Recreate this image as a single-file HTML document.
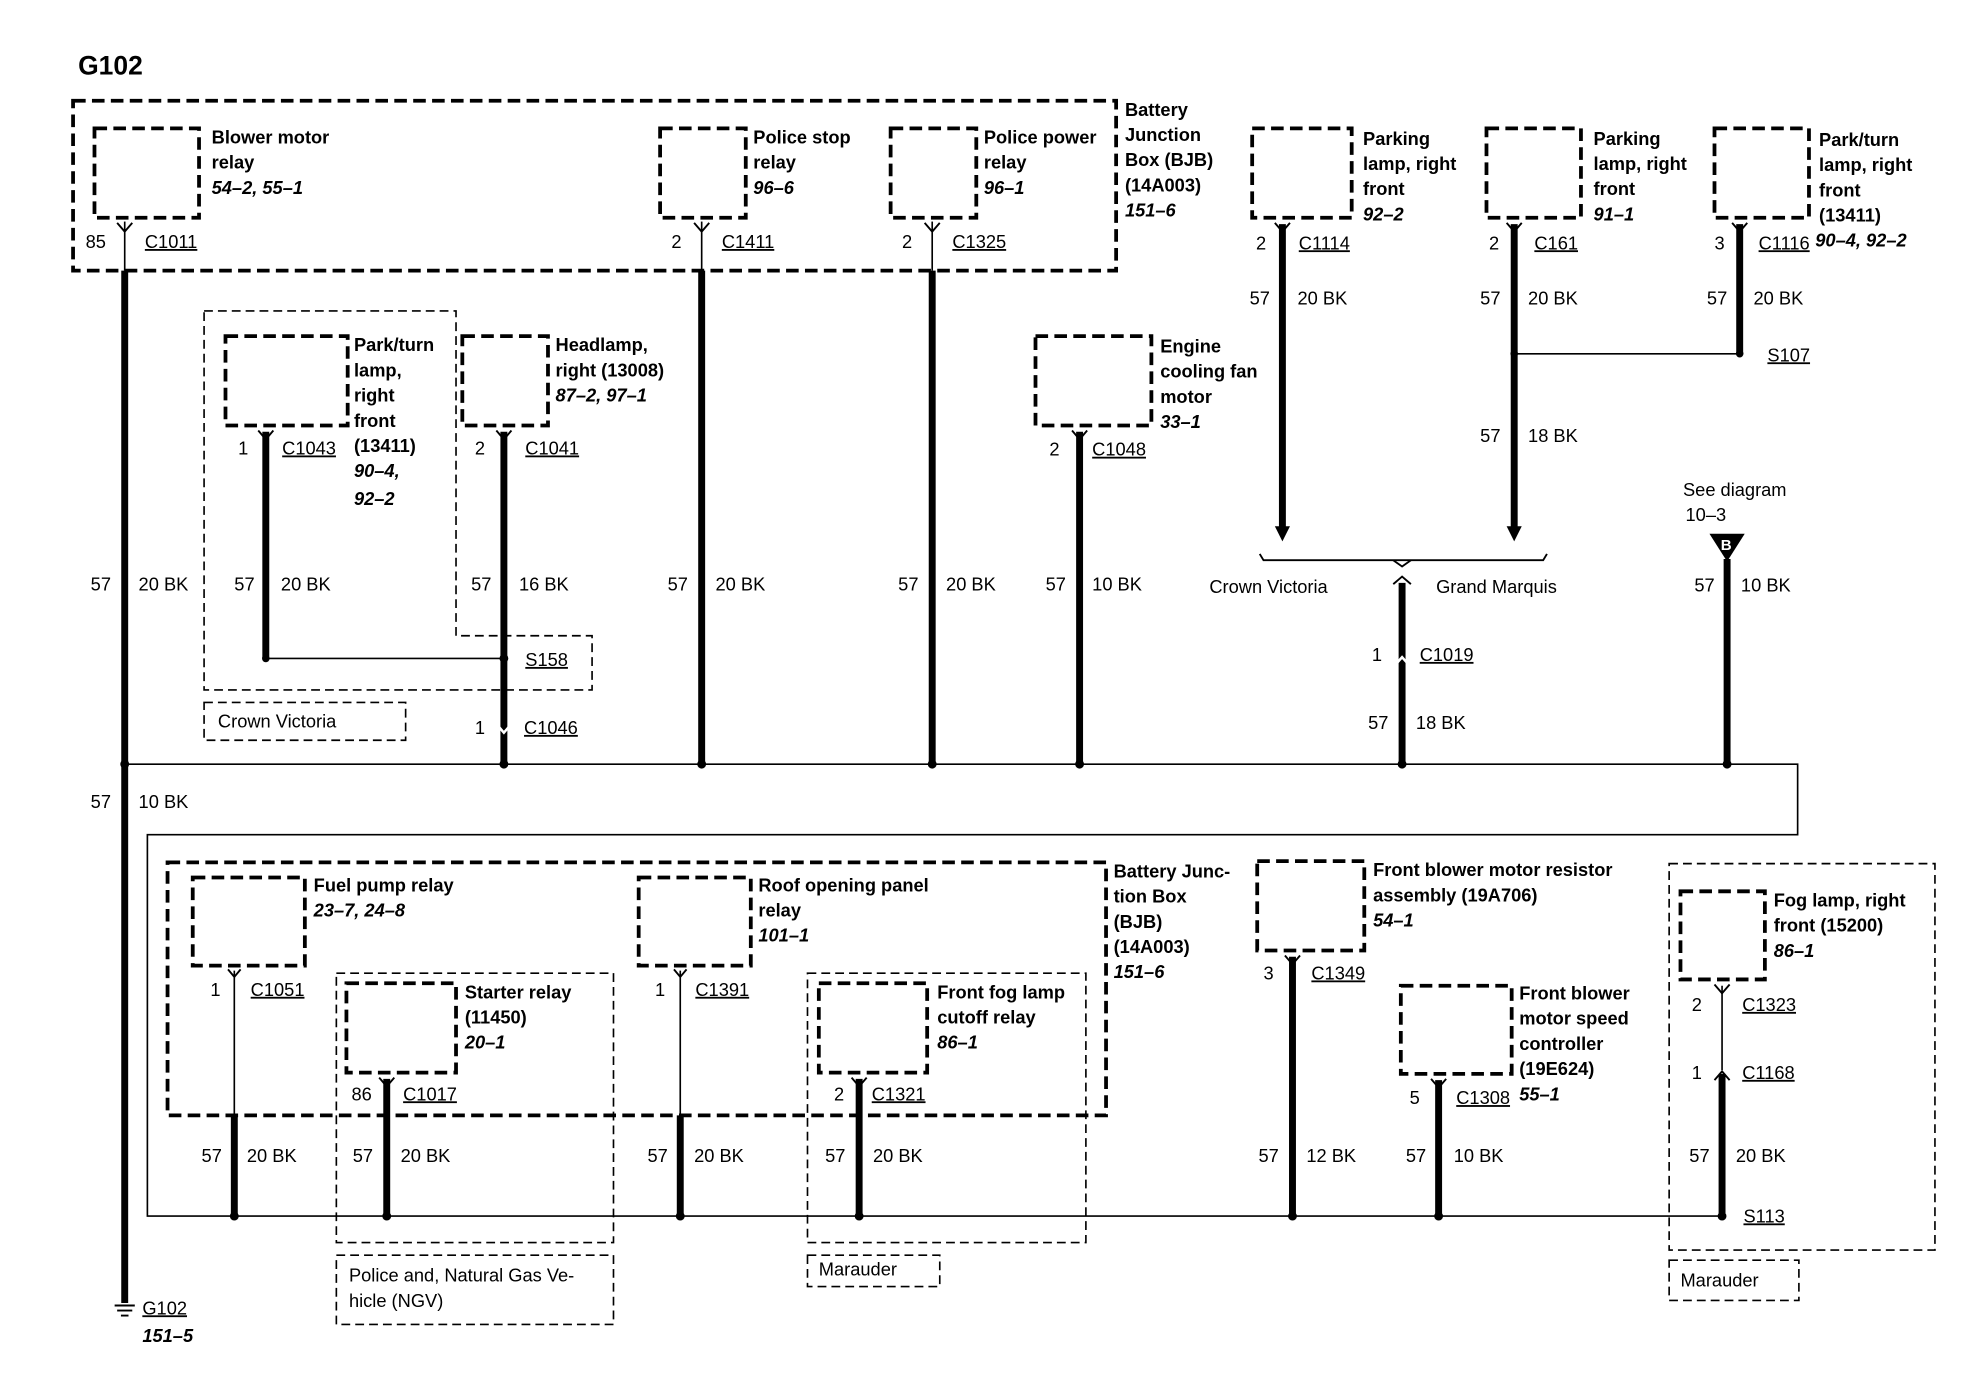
<!DOCTYPE html>
<html><head><meta charset="utf-8"><style>
html,body{margin:0;padding:0;background:#fff;}
svg{display:block;}
text{font-family:"Liberation Sans",Arial,sans-serif;font-size:14.5px;fill:#000;}
.b{font-weight:bold;}
.i{font-weight:bold;font-style:italic;}
.u{text-decoration:underline;}
.rb{fill:none;stroke:#000;stroke-width:3;stroke-dasharray:10,5;}
.gb{fill:none;stroke:#000;stroke-width:1.3;stroke-dasharray:7,4;}
.w{stroke:#000;stroke-width:5.5;fill:none;}
.t{stroke:#000;stroke-width:1.3;fill:none;}
.c{stroke:#000;stroke-width:1.5;fill:none;}
</style></head><body>
<svg width="1974" height="1376" viewBox="0 0 1567 1093" preserveAspectRatio="none" xmlns="http://www.w3.org/2000/svg">
<text x="62" y="59" class="b" style="font-size:21px">G102</text>

<rect x="58" y="80" width="828" height="135" class="rb"/>
<text x="893" y="92" class="b">Battery</text>
<text x="893" y="112" class="b">Junction</text>
<text x="893" y="132" class="b">Box (BJB)</text>
<text x="893" y="152" class="b">(14A003)</text>
<text x="893" y="172" class="i">151–6</text>

<rect x="75" y="102" width="83" height="71" class="rb"/>
<text x="168" y="114" class="b">Blower motor</text>
<text x="168" y="134" class="b">relay</text>
<text x="168" y="154" class="i">54–2, 55–1</text>
<text x="68" y="197">85</text>
<text x="115" y="197" class="u">C1011</text>
<line x1="99" y1="176" x2="99" y2="215" class="t"/>
<polyline points="93,177 99,184 105,177" class="c"/>
<line x1="99" y1="215" x2="99" y2="1035" class="w"/>

<rect x="524" y="102" width="68" height="71" class="rb"/>
<text x="598" y="114" class="b">Police stop</text>
<text x="598" y="134" class="b">relay</text>
<text x="598" y="154" class="i">96–6</text>
<text x="533" y="197">2</text>
<text x="573" y="197" class="u">C1411</text>
<line x1="557" y1="176" x2="557" y2="215" class="t"/>
<polyline points="551,177 557,184 563,177" class="c"/>
<line x1="557" y1="215" x2="557" y2="607" class="w"/>

<rect x="707" y="102" width="68" height="71" class="rb"/>
<text x="781" y="114" class="b">Police power</text>
<text x="781" y="134" class="b">relay</text>
<text x="781" y="154" class="i">96–1</text>
<text x="716" y="197">2</text>
<text x="756" y="197" class="u">C1325</text>
<line x1="740" y1="176" x2="740" y2="215" class="t"/>
<polyline points="734,177 740,184 746,177" class="c"/>
<line x1="740" y1="215" x2="740" y2="607" class="w"/>

<rect x="994" y="102" width="79" height="71" class="rb"/>
<text x="1082" y="115" class="b">Parking</text>
<text x="1082" y="135" class="b">lamp, right</text>
<text x="1082" y="155" class="b">front</text>
<text x="1082" y="175" class="i">92–2</text>
<text x="997" y="198">2</text>
<text x="1031" y="198" class="u">C1114</text>
<polyline points="1012,177 1018,184 1024,177" class="c"/>
<line x1="1018" y1="178" x2="1018" y2="420" class="w"/>
<polygon points="1012,418 1024,418 1018,430" fill="#000"/>
<text x="992" y="242">57</text>
<text x="1030" y="242">20 BK</text>

<rect x="1180" y="102" width="75" height="71" class="rb"/>
<text x="1265" y="115" class="b">Parking</text>
<text x="1265" y="135" class="b">lamp, right</text>
<text x="1265" y="155" class="b">front</text>
<text x="1265" y="175" class="i">91–1</text>
<text x="1182" y="198">2</text>
<text x="1218" y="198" class="u">C161</text>
<polyline points="1196,177 1202,184 1208,177" class="c"/>
<line x1="1202" y1="178" x2="1202" y2="420" class="w"/>
<polygon points="1196,418 1208,418 1202,430" fill="#000"/>
<text x="1175" y="242">57</text>
<text x="1213" y="242">20 BK</text>
<text x="1175" y="351">57</text>
<text x="1213" y="351">18 BK</text>
<line x1="1202" y1="281" x2="1381" y2="281" class="t"/>
<circle cx="1202" cy="281" r="3"/>
<circle cx="1381" cy="281" r="3"/>

<rect x="1361" y="102" width="75" height="71" class="rb"/>
<text x="1444" y="116" class="b">Park/turn</text>
<text x="1444" y="136" class="b">lamp, right</text>
<text x="1444" y="156" class="b">front</text>
<text x="1444" y="176" class="b">(13411)</text>
<text x="1361" y="198">3</text>
<text x="1396" y="198" class="u">C1116</text>
<text x="1441" y="196" class="i">90–4, 92–2</text>
<polyline points="1375,177 1381,184 1387,177" class="c"/>
<line x1="1381" y1="178" x2="1381" y2="281" class="w"/>
<text x="1355" y="242">57</text>
<text x="1392" y="242">20 BK</text>
<text x="1403" y="287" class="u">S107</text>

<polyline points="1000,440 1003,445 1225,445 1228,440" class="c"/>
<polyline points="1106,445 1113,450 1120,445" class="c"/>
<text x="960" y="471">Crown Victoria</text>
<text x="1140" y="471">Grand Marquis</text>
<polyline points="1106,464 1113,458 1120,464" class="c"/>
<line x1="1113" y1="463" x2="1113" y2="607" class="w"/>
<polyline points="1106,530 1113,522 1120,530" stroke="#fff" stroke-width="2" fill="none"/>
<text x="1089" y="525">1</text>
<text x="1127" y="525" class="u">C1019</text>
<text x="1086" y="579">57</text>
<text x="1124" y="579">18 BK</text>

<text x="1336" y="394">See diagram</text>
<text x="1338" y="414">10–3</text>
<polygon points="1357,424 1385,424 1371,446" fill="#000"/>
<text x="1366" y="437" style="fill:#fff;font-size:12px;font-weight:bold">B</text>
<line x1="1371" y1="444" x2="1371" y2="607" class="w"/>
<text x="1345" y="470">57</text>
<text x="1382" y="470">10 BK</text>

<rect x="822" y="267" width="92" height="71" class="rb"/>
<text x="921" y="280" class="b">Engine</text>
<text x="921" y="300" class="b">cooling fan</text>
<text x="921" y="320" class="b">motor</text>
<text x="921" y="340" class="i">33–1</text>
<text x="833" y="362">2</text>
<text x="867" y="362" class="u">C1048</text>
<polyline points="851,342 857,349 863,342" class="c"/>
<line x1="857" y1="343" x2="857" y2="607" class="w"/>
<text x="830" y="469">57</text>
<text x="867" y="469">10 BK</text>

<polyline points="162,247 362,247 362,505 470,505 470,548 162,548 162,247" class="gb"/>
<rect x="162" y="558" width="160" height="30" class="gb"/>
<text x="173" y="578">Crown Victoria</text>

<rect x="179" y="267" width="97" height="71" class="rb"/>
<text x="281" y="279" class="b">Park/turn</text>
<text x="281" y="299" class="b">lamp,</text>
<text x="281" y="319" class="b">right</text>
<text x="281" y="339" class="b">front</text>
<text x="281" y="359" class="b">(13411)</text>
<text x="281" y="379" class="i">90–4,</text>
<text x="281" y="401" class="i">92–2</text>
<text x="189" y="361">1</text>
<text x="224" y="361" class="u">C1043</text>
<polyline points="205,342 211,349 217,342" class="c"/>
<line x1="211" y1="343" x2="211" y2="523" class="w"/>
<circle cx="211" cy="523" r="3"/>
<line x1="211" y1="523" x2="400" y2="523" class="t"/>

<rect x="367" y="267" width="68" height="71" class="rb"/>
<text x="441" y="279" class="b">Headlamp,</text>
<text x="441" y="299" class="b">right (13008)</text>
<text x="441" y="319" class="i">87–2, 97–1</text>
<text x="377" y="361">2</text>
<text x="417" y="361" class="u">C1041</text>
<polyline points="394,342 400,349 406,342" class="c"/>
<line x1="400" y1="343" x2="400" y2="607" class="w"/>
<circle cx="400" cy="523" r="3.5"/>
<text x="417" y="529" class="u">S158</text>
<polyline points="394,575 400,582 406,575" stroke="#fff" stroke-width="2" fill="none"/>
<text x="377" y="583">1</text>
<text x="416" y="583" class="u">C1046</text>

<text x="72" y="469">57</text>
<text x="110" y="469">20 BK</text>
<text x="186" y="469">57</text>
<text x="223" y="469">20 BK</text>
<text x="374" y="469">57</text>
<text x="412" y="469">16 BK</text>
<text x="530" y="469">57</text>
<text x="568" y="469">20 BK</text>
<text x="713" y="469">57</text>
<text x="751" y="469">20 BK</text>

<polyline points="99,607 1427,607 1427,663 117,663 117,966 1367,966" class="t"/>
<circle cx="99" cy="607" r="3.5"/><circle cx="400" cy="607" r="3.5"/><circle cx="557" cy="607" r="3.5"/>
<circle cx="740" cy="607" r="3.5"/><circle cx="857" cy="607" r="3.5"/><circle cx="1113" cy="607" r="3.5"/>
<circle cx="1371" cy="607" r="3.5"/>
<text x="72" y="642">57</text>
<text x="110" y="642">10 BK</text>

<rect x="133" y="685" width="745" height="201" class="rb"/>
<text x="884" y="697" class="b">Battery Junc-</text>
<text x="884" y="717" class="b">tion Box</text>
<text x="884" y="737" class="b">(BJB)</text>
<text x="884" y="757" class="b">(14A003)</text>
<text x="884" y="777" class="i">151–6</text>

<rect x="153" y="697" width="89" height="70" class="rb"/>
<text x="249" y="708" class="b">Fuel pump relay</text>
<text x="249" y="728" class="i">23–7, 24–8</text>
<text x="167" y="791">1</text>
<text x="199" y="791" class="u">C1051</text>
<polyline points="181,770 186,776 191,770" class="c"/>
<line x1="186" y1="771" x2="186" y2="886" class="t"/>
<line x1="186" y1="886" x2="186" y2="966" class="w"/>

<rect x="267" y="773" width="220" height="214" class="gb"/>
<rect x="275" y="781" width="87" height="71" class="rb"/>
<text x="369" y="793" class="b">Starter relay</text>
<text x="369" y="813" class="b">(11450)</text>
<text x="369" y="833" class="i">20–1</text>
<text x="279" y="874">86</text>
<text x="320" y="874" class="u">C1017</text>
<polyline points="301,856 307,863 313,856" class="c"/>
<line x1="307" y1="857" x2="307" y2="966" class="w"/>
<rect x="267" y="997" width="220" height="55" class="gb"/>
<text x="277" y="1018">Police and, Natural Gas Ve-</text>
<text x="277" y="1038">hicle (NGV)</text>

<rect x="507" y="697" width="89" height="70" class="rb"/>
<text x="602" y="708" class="b">Roof opening panel</text>
<text x="602" y="728" class="b">relay</text>
<text x="602" y="748" class="i">101–1</text>
<text x="520" y="791">1</text>
<text x="552" y="791" class="u">C1391</text>
<polyline points="535,770 540,776 545,770" class="c"/>
<line x1="540" y1="771" x2="540" y2="886" class="t"/>
<line x1="540" y1="886" x2="540" y2="966" class="w"/>

<rect x="641" y="773" width="221" height="214" class="gb"/>
<rect x="650" y="781" width="86" height="71" class="rb"/>
<text x="744" y="793" class="b">Front fog lamp</text>
<text x="744" y="813" class="b">cutoff relay</text>
<text x="744" y="833" class="i">86–1</text>
<text x="662" y="874">2</text>
<text x="692" y="874" class="u">C1321</text>
<polyline points="676,856 682,863 688,856" class="c"/>
<line x1="682" y1="857" x2="682" y2="966" class="w"/>
<rect x="641" y="997" width="105" height="25" class="gb"/>
<text x="650" y="1013">Marauder</text>

<text x="160" y="923">57</text><text x="196" y="923">20 BK</text>
<text x="280" y="923">57</text><text x="318" y="923">20 BK</text>
<text x="514" y="923">57</text><text x="551" y="923">20 BK</text>
<text x="655" y="923">57</text><text x="693" y="923">20 BK</text>

<rect x="998" y="684" width="85" height="71" class="rb"/>
<text x="1090" y="696" class="b">Front blower motor resistor</text>
<text x="1090" y="716" class="b">assembly (19A706)</text>
<text x="1090" y="736" class="i">54–1</text>
<text x="1003" y="778">3</text>
<text x="1041" y="778" class="u">C1349</text>
<polyline points="1020,759 1026,766 1032,759" class="c"/>
<line x1="1026" y1="760" x2="1026" y2="966" class="w"/>
<text x="999" y="923">57</text><text x="1037" y="923">12 BK</text>

<rect x="1112" y="783" width="88" height="70" class="rb"/>
<text x="1206" y="794" class="b">Front blower</text>
<text x="1206" y="814" class="b">motor speed</text>
<text x="1206" y="834" class="b">controller</text>
<text x="1206" y="854" class="b">(19E624)</text>
<text x="1206" y="874" class="i">55–1</text>
<text x="1119" y="877">5</text>
<text x="1156" y="877" class="u">C1308</text>
<polyline points="1136,857 1142,864 1148,857" class="c"/>
<line x1="1142" y1="858" x2="1142" y2="966" class="w"/>
<text x="1116" y="923">57</text><text x="1154" y="923">10 BK</text>

<rect x="1325" y="686" width="211" height="307" class="gb"/>
<rect x="1334" y="708" width="67" height="70" class="rb"/>
<text x="1408" y="720" class="b">Fog lamp, right</text>
<text x="1408" y="740" class="b">front (15200)</text>
<text x="1408" y="760" class="i">86–1</text>
<text x="1343" y="803">2</text>
<text x="1383" y="803" class="u">C1323</text>
<polyline points="1361,782 1367,789 1373,782" class="c"/>
<line x1="1367" y1="783" x2="1367" y2="850" class="t"/>
<polyline points="1361,858 1367,851 1373,858" class="c"/>
<text x="1343" y="857">1</text>
<text x="1383" y="857" class="u">C1168</text>
<line x1="1367" y1="853" x2="1367" y2="966" class="w"/>
<text x="1341" y="923">57</text><text x="1378" y="923">20 BK</text>
<text x="1384" y="971" class="u">S113</text>
<rect x="1325" y="1001" width="103" height="32" class="gb"/>
<text x="1334" y="1022">Marauder</text>

<circle cx="186" cy="966" r="3.5"/><circle cx="307" cy="966" r="3.5"/><circle cx="540" cy="966" r="3.5"/>
<circle cx="682" cy="966" r="3.5"/><circle cx="1026" cy="966" r="3.5"/><circle cx="1142" cy="966" r="3.5"/>
<circle cx="1367" cy="966" r="3.5"/>

<line x1="91" y1="1037" x2="107" y2="1037" class="c"/>
<line x1="93" y1="1041" x2="105" y2="1041" class="c"/>
<line x1="96" y1="1045" x2="102" y2="1045" class="c"/>
<text x="113" y="1044" class="u">G102</text>
<text x="113" y="1066" class="i">151–5</text>
</svg>
</body></html>
